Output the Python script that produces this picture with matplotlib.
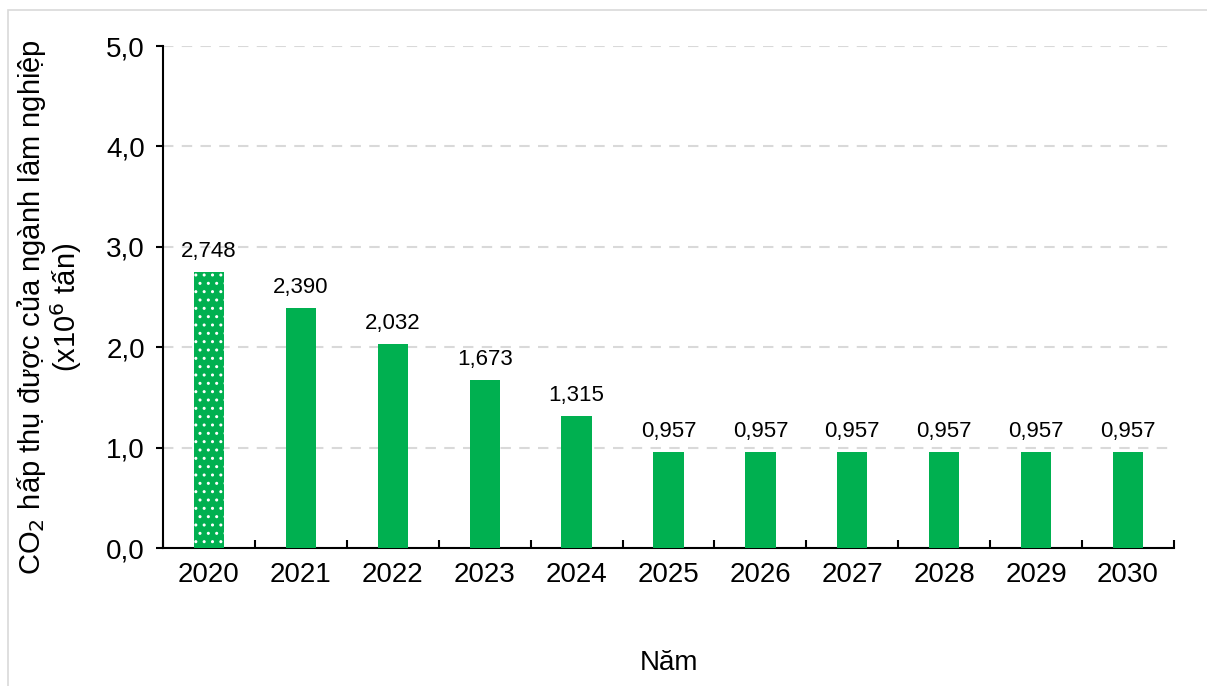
import numpy as np
import matplotlib.pyplot as plt
from matplotlib.patches import Rectangle

plt.rcParams['font.family'] = ['Liberation Sans', 'DejaVu Sans']
plt.rcParams['hatch.linewidth'] = 1.0

# số liệu CO2 hấp thụ theo năm
years = ['2020', '2021', '2022', '2023', '2024', '2025', '2026', '2027', '2028', '2029', '2030']
values = [2.748, 2.390, 2.032, 1.673, 1.315, 0.957, 0.957, 0.957, 0.957, 0.957, 0.957]
value_labels = ['2,748', '2,390', '2,032', '1,673', '1,315', '0,957', '0,957', '0,957', '0,957', '0,957', '0,957']
y_ticks = [0, 1, 2, 3, 4, 5]
y_tick_labels = ['0,0', '1,0', '2,0', '3,0', '4,0', '5,0']

green = '#00B050'

fig = plt.figure(figsize=(12.07, 6.86), dpi=100)
# khung viền nhạt bên ngoài
fig.patches.append(Rectangle((8 / 1207, -0.1), 1.2, 1 - 10 / 686 + 0.1,
                             transform=fig.transFigure, fill=False,
                             edgecolor='#d9d9d9', linewidth=1.2))

ax = fig.add_axes([163 / 1207, 1 - 548 / 686, (1174 - 163) / 1207, (548 - 46) / 686])

x = np.arange(len(years))
bars = ax.bar(x, values, width=0.33, color=green, linewidth=0, zorder=3)
# năm gốc 2020 tô chấm
bars[0].set_hatch('..')
bars[0].set_edgecolor('white')

for xi, v, lab in zip(x, values, value_labels):
    ax.text(xi, v + 0.10, lab, ha='center', va='bottom', fontsize=16)

ax.set_xlim(-0.5, len(years) - 0.5)
ax.set_ylim(0, 5)
ax.set_yticks(y_ticks)
ax.set_yticklabels(y_tick_labels, fontsize=20)
ax.set_xticks(x)
ax.set_xticklabels(years, fontsize=20)
ax.set_xticks(np.arange(len(years) + 1) - 0.5, minor=True)
ax.tick_params(axis='x', which='major', length=0, pad=10)
ax.tick_params(axis='x', which='minor', direction='in', length=6, width=1.5)
ax.tick_params(axis='y', direction='out', length=5, width=1.5, pad=8)

ax.grid(axis='y', color='#d9d9d9', linestyle=(0, (5, 4)), linewidth=1.5, zorder=0)
for s in ['top', 'right']:
    ax.spines[s].set_visible(False)
for s in ['left', 'bottom']:
    ax.spines[s].set_linewidth(1.5)

ax.set_xlabel('Năm', fontsize=20, labelpad=45)
ax.set_ylabel('CO$_2$ hấp thụ được của ngành lâm nghiệp\n(x10$^6$ tấn)', fontsize=21,
              linespacing=1.0)
ax.yaxis.set_label_coords(-0.078, 0.48)

fig.savefig('out.png', dpi=100)
